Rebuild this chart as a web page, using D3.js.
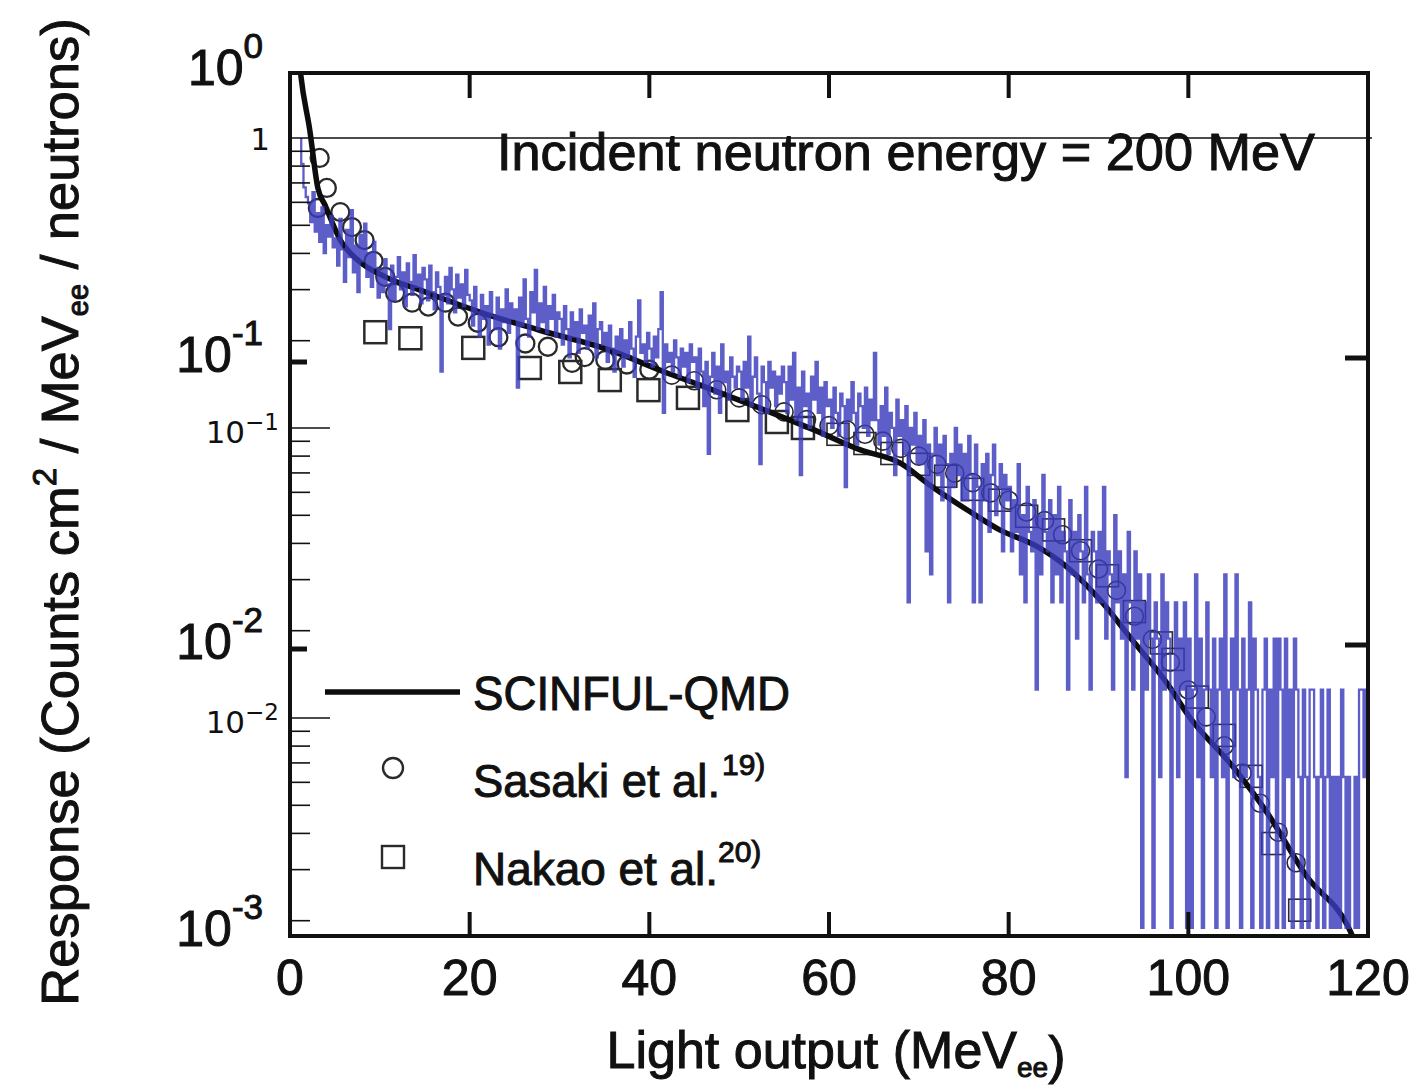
<!DOCTYPE html>
<html>
<head>
<meta charset="utf-8">
<script src="https://cdn.jsdelivr.net/npm/d3@7"></script>
<style>
  body { margin: 0; background: #fff; }
  text { font-family: "Liberation Sans", Arial, Helvetica, sans-serif; fill: #111; }
  .scan { stroke: #111; stroke-width: 1.0; }
  .thin { font-family: "DejaVu Sans", sans-serif; }
</style>
</head>
<body>
<svg id="chart" width="1418" height="1090"></svg>
<script>
// ---- data -------------------------------------------------------------
// blue histogram: counts per 0.25 MeV bin, 1 count = countUnit on the overlay axis
const binWidth = 0.25
const countUnit = 0.00626
const blueCounts = [
  400,350,300,250,165,130,108,100,95,82,104,76,88,70,92,64,80,73,86,67,
  72,58,84,66,51,77,62,90,55,68,47,74,60,81,53,64,49,70,57,45,
  56,47,61,50,35,58,44,53,62,48,55,42,59,51,46,63,49,54,43,57,
  52,44,58,47,41,55,49,25,46,53,43,57,48,40,54,45,50,42,56,46,
  44,36,49,40,33,46,38,42,31,47,39,35,45,30,41,37,48,34,43,38,
  41,22,45,36,52,38,33,47,40,56,35,43,37,49,34,42,38,46,33,40,
  38,31,42,35,28,40,33,37,29,41,34,36,30,39,32,43,28,35,37,31,
  34,27,36,30,25,33,29,35,26,32,28,37,30,24,33,44,29,31,27,34,
  30,26,33,28,35,47,18,31,27,29,25,32,28,24,30,26,29,23,31,27,
  28,22,30,25,19,27,13,24,29,21,26,18,31,23,25,20,28,24,22,26,
  25,20,27,22,33,19,24,28,21,12,26,23,18,27,22,25,19,24,21,26,
  23,18,26,20,29,17,22,11,25,19,21,16,24,20,27,18,22,15,23,19,
  20,16,22,18,15,21,19,10,20,17,23,18,14,21,19,16,22,15,20,17,
  29,17,14,19,15,22,13,18,16,11,20,15,17,13,19,4,16,14,18,12,
  15,12,17,6,14,5,13,16,11,14,9,15,12,4,13,10,16,11,14,9,
  13,9,15,11,4,14,10,4,12,9,13,7,11,14,8,10,12,6,11,9,
  10,6,9,7,12,5,8,4,10,7,6,9,2,8,5,11,7,6,9,4,
  8,5,10,4,7,6,2,9,5,7,3,8,6,4,10,5,2,7,6,4,
  7,4,10,3,6,5,2,8,4,6,3,5,1,7,4,2,6,3,5,0,
  4,2,5,3,0,4,3,1,5,2,4,3,0,2,4,1,3,2,4,0,
  3,0,2,5,1,3,0,2,4,2,1,3,0,2,3,1,5,0,2,3,
  1,5,2,0,3,1,2,4,0,3,2,1,0,2,3,0,2,1,3,0,
  3,2,0,3,1,2,0,3,2,1,0,2,1,0,2,2,1,0,1,2,
  0,1,2,0,1,0,1,0,2,1,0,1,0,0,1,0,2,2,1,2
]

// SCINFUL-QMD calculation (thick black line), original axis
const scinfulE = [1.0,1.2,2.2,3.1,3.9,5.6,7.8,10.6,14.5,21.2,27.8,35.6,41.7,45.6,52.3,58.4,63.5,67.9,71.2,75.4,79.0,82.9,86.5,90.2,93.8,97.6,100.2,105.0,108.8,113.2,117.7,118.6]
const scinfulV = [1.15,1.0,0.643,0.404,0.352,0.266,0.223,0.198,0.178,0.149,0.129,0.110,0.0923,0.0832,0.0691,0.0579,0.0494,0.0445,0.0373,0.0305,0.0260,0.0230,0.0193,0.0148,0.0107,0.00762,0.00575,0.00388,0.00268,0.00161,0.00109,0.00095]

// Sasaki et al. (circles)
const sasakiE = [3.3,4.1,3.1,5.6,6.9,8.3,9.3,10.6,11.7,13.6,15.4,17.3,18.7,20.9,23.2,26.2,28.7,31.4,32.8,35.1,
  37.5,40,42.5,45,47.5,50,52.5,55,57.5,60,62,64,66,68,70,72,74,76,78,80,82,84,86,88,90,92,94,96,98,100,102,104,106,108,110,112]
const sasakiV = [0.514,0.404,0.344,0.333,0.295,0.266,0.225,0.198,0.174,0.161,0.156,0.161,0.144,0.137,0.122,0.116,0.113,0.0993,0.104,0.1016,
  0.098,0.094,0.090,0.086,0.080,0.075,0.071,0.067,0.063,0.060,0.058,0.056,0.053,0.050,0.047,0.044,0.041,0.038,0.035,0.033,0.030,0.028,0.025,0.022,0.019,0.016,0.013,0.0108,0.0090,0.0072,0.0058,0.0046,0.0037,0.0029,0.0023,0.0018]

// Nakao et al. (squares)
const nakaoE = [9.5,13.4,20.4,26.7,31.2,35.6,39.9,44.3,49.8,54.2,57.1,61,64,67,70,73,76,79,82,85,88,91,94,97,98.3,101,104,107,109.4,112.4]
const nakaoV = [0.127,0.121,0.112,0.0953,0.0923,0.0865,0.0798,0.075,0.068,0.0618,0.0589,0.056,0.052,0.048,0.044,0.040,0.036,0.033,0.029,0.026,0.022,0.018,0.0135,0.0105,0.0092,0.0068,0.0050,0.0036,0.0021,0.00123]

const xTickVals = [0, 20, 40, 60, 80, 100, 120]
const origDecades = [1, 0.1, 0.01, 0.001]
const origExps = ["0", "-1", "-2", "-3"]
const overlayDecades = [1, 0.1, 0.01]
const overlayExps = ["", "\u22121", "\u22122"]

// ---- scales -----------------------------------------------------------
const svg = d3.select("#chart")
const x = d3.scaleLinear().domain([0, 120]).range([290, 1368])
const yO = d3.scaleLog().domain([1e-3, 1]).range([936, 75])    // scanned figure
const yN = d3.scaleLog().domain([1e-3, 1]).range([1008, 138])  // overlay axis

const defs = svg.append("defs")
defs.append("clipPath").attr("id", "clipO").append("rect")
  .attr("x", 290).attr("y", 75).attr("width", 1078).attr("height", 861)
defs.append("clipPath").attr("id", "clipN").append("rect")
  .attr("x", 290).attr("y", 138).attr("width", 1082).attr("height", 791)

// ---- scanned figure data ---------------------------------------------
const gO = svg.append("g").attr("clip-path", "url(#clipO)")

gO.selectAll("circle.sasaki")
  .data(d3.zip(sasakiE, sasakiV))
  .join("circle")
  .attr("class", "sasaki")
  .attr("cx", d => x(d[0]))
  .attr("cy", d => yO(d[1]))
  .attr("r", 9)
  .attr("fill", "none")
  .attr("stroke", "#2a2a2a")
  .attr("stroke-width", d => d[0] > 40 ? 1.6 : 2.3)

gO.selectAll("rect.nakao")
  .data(d3.zip(nakaoE, nakaoV))
  .join("rect")
  .attr("class", "nakao")
  .attr("x", d => x(d[0]) - 11)
  .attr("y", d => yO(d[1]) - 11)
  .attr("width", 22)
  .attr("height", 22)
  .attr("fill", "none")
  .attr("stroke", "#2a2a2a")
  .attr("stroke-width", d => d[0] > 58 ? 1.6 : 2.5)

const curve = d3.line()
  .x(d => x(d[0]))
  .y(d => yO(d[1]))
  .curve(d3.curveMonotoneX)

gO.append("path")
  .datum(d3.zip(scinfulE, scinfulV))
  .attr("d", curve)
  .attr("fill", "none")
  .attr("stroke", "#0d0d0d")
  .attr("stroke-width", 5.5)

// ---- blue overlay histogram ------------------------------------------
let bluePts = []
blueCounts.forEach((c, i) => {
  let v = c > 0 ? c * countUnit : 5e-4
  bluePts.push([i * binWidth, v], [(i + 1) * binWidth, v])
})

svg.append("g").attr("clip-path", "url(#clipN)")
  .append("path")
  .datum(bluePts)
  .attr("d", d3.line().x(d => x(d[0])).y(d => yN(d[1])))
  .attr("fill", "none")
  .attr("stroke", "#3b3bbd")
  .attr("stroke-opacity", 0.82)
  .attr("stroke-width", 2.3)

// ---- scanned frame and ticks -----------------------------------------
svg.append("rect")
  .attr("x", 290).attr("y", 73).attr("width", 1078).attr("height", 863)
  .attr("fill", "none").attr("stroke", "#111").attr("stroke-width", 4)

let inner = xTickVals.filter(t => t > 0 && t < 120)
svg.selectAll("line.xtop").data(inner).join("line")
  .attr("x1", d => x(d)).attr("x2", d => x(d))
  .attr("y1", 73).attr("y2", 98)
  .attr("stroke", "#111").attr("stroke-width", 4)
svg.selectAll("line.xbot").data(inner).join("line")
  .attr("x1", d => x(d)).attr("x2", d => x(d))
  .attr("y1", 936).attr("y2", 912)
  .attr("stroke", "#111").attr("stroke-width", 4)

let midDec = origDecades.slice(1, 3)
svg.selectAll("line.yl").data(midDec).join("line")
  .attr("x1", 290).attr("x2", 307)
  .attr("y1", d => yO(d)).attr("y2", d => yO(d))
  .attr("stroke", "#111").attr("stroke-width", 5)
svg.selectAll("line.yr").data(midDec).join("line")
  .attr("x1", 1368).attr("x2", 1345)
  .attr("y1", d => yO(d) - 4).attr("y2", d => yO(d) - 4)
  .attr("stroke", "#111").attr("stroke-width", 5)

// x tick labels
svg.selectAll("text.xl").data(xTickVals).join("text")
  .attr("class", "scan")
  .attr("x", d => x(d)).attr("y", 995)
  .attr("text-anchor", "middle")
  .attr("font-size", 50)
  .text(d => d)

// y tick labels of scanned figure
origDecades.forEach((d, i) => {
  let t = svg.append("text").attr("class", "scan")
    .attr("x", 263).attr("y", yO(d) + 10)
    .attr("text-anchor", "end")
    .attr("font-size", 50)
  t.append("tspan").text("10")
  t.append("tspan").attr("dy", -27).attr("font-size", 35).text(origExps[i])
})

// ---- overlay axis (thin) ---------------------------------------------
svg.append("line")
  .attr("x1", 290).attr("x2", 1372)
  .attr("y1", yN(1)).attr("y2", yN(1))
  .attr("stroke", "#111").attr("stroke-width", 1.6)

svg.selectAll("line.nmaj").data(overlayDecades.slice(1)).join("line")
  .attr("x1", 290).attr("x2", 330)
  .attr("y1", d => yN(d)).attr("y2", d => yN(d))
  .attr("stroke", "#111").attr("stroke-width", 1.6)

let minors = yN.ticks().filter(v => v >= 0.0019 && v < 1 && Math.abs(Math.log10(v) % 1) > 1e-6)
svg.selectAll("line.nmin").data(minors).join("line")
  .attr("x1", 290).attr("x2", 310)
  .attr("y1", d => yN(d)).attr("y2", d => yN(d))
  .attr("stroke", "#111").attr("stroke-width", 1.6)

overlayDecades.forEach((d, i) => {
  let t = svg.append("text").attr("class", "thin")
    .attr("x", 279).attr("y", yN(d) + 15)
    .attr("text-anchor", "end")
    .attr("font-size", 31)
  if (i === 0) {
    t.attr("x", 270).attr("y", yN(d) + 12).text("1")
  } else {
    t.append("tspan").text("10")
    t.append("tspan").attr("dy", -13).attr("font-size", 23).text(overlayExps[i])
  }
})

// ---- titles -----------------------------------------------------------
svg.append("text").attr("class", "scan")
  .attr("x", 497).attr("y", 170)
  .attr("font-size", 52)
  .attr("textLength", 818).attr("lengthAdjust", "spacingAndGlyphs")
  .text("Incident neutron energy = 200 MeV")

let xt = svg.append("text").attr("class", "scan")
  .attr("x", 836).attr("y", 1068)
  .attr("text-anchor", "middle")
  .attr("font-size", 52)
xt.append("tspan").text("Light output (MeV")
xt.append("tspan").attr("dy", 9).attr("font-size", 28).text("ee")
xt.append("tspan").attr("dy", -4).text(")")

let yt = svg.append("text").attr("class", "scan")
  .attr("transform", "translate(78,512) rotate(-90)")
  .attr("text-anchor", "middle")
  .attr("font-size", 52.5)
yt.append("tspan").text("Response (Counts cm")
yt.append("tspan").attr("dy", -22).attr("font-size", 33).text("2")
yt.append("tspan").attr("dy", 22).text(" / MeV")
yt.append("tspan").attr("dy", 10).attr("font-size", 29).text("ee")
yt.append("tspan").attr("dy", -10).text(" / neutrons)")

// ---- legend -----------------------------------------------------------
svg.append("line")
  .attr("x1", 325).attr("x2", 460).attr("y1", 692).attr("y2", 692)
  .attr("stroke", "#0d0d0d").attr("stroke-width", 5.5)
svg.append("text").attr("class", "scan")
  .attr("x", 473).attr("y", 710).attr("font-size", 48)
  .attr("textLength", 317).attr("lengthAdjust", "spacingAndGlyphs")
  .text("SCINFUL-QMD")

svg.append("circle")
  .attr("cx", 393).attr("cy", 768).attr("r", 10)
  .attr("fill", "none").attr("stroke", "#2a2a2a").attr("stroke-width", 2.4)
svg.append("text").attr("class", "scan")
  .attr("x", 473).attr("y", 797).attr("font-size", 46)
  .attr("textLength", 247).attr("lengthAdjust", "spacingAndGlyphs")
  .text("Sasaki et al.")
svg.append("text").attr("class", "scan")
  .attr("x", 722).attr("y", 775).attr("font-size", 30)
  .text("19)")

svg.append("rect")
  .attr("x", 382).attr("y", 846).attr("width", 22).attr("height", 22)
  .attr("fill", "none").attr("stroke", "#2a2a2a").attr("stroke-width", 2.4)
svg.append("text").attr("class", "scan")
  .attr("x", 473).attr("y", 885).attr("font-size", 46)
  .attr("textLength", 245).attr("lengthAdjust", "spacingAndGlyphs")
  .text("Nakao et al.")
svg.append("text").attr("class", "scan")
  .attr("x", 718).attr("y", 862).attr("font-size", 30)
  .text("20)")
</script>
</body>
</html>
